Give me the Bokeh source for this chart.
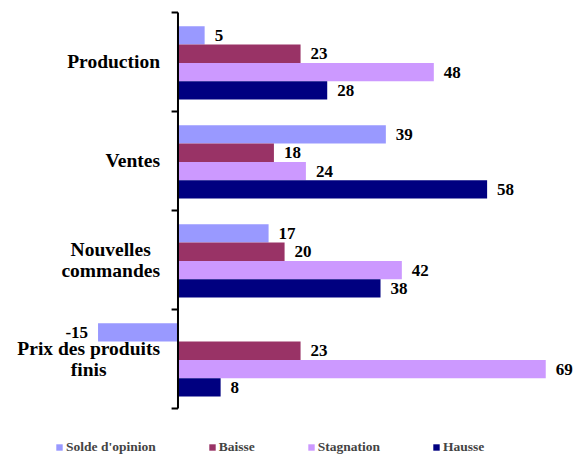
from bokeh.plotting import figure
from bokeh.models import ColumnDataSource, Range1d, Legend, LegendItem
from bokeh.core.properties import value
from bokeh.embed import file_html
from bokeh.resources import INLINE

categories = ["Production", "Ventes", "Nouvelles\ncommandes", "Prix des produits\nfinis"]
series_names = ["Solde d'opinion", "Baisse", "Stagnation", "Hausse"]
solde = [5, 39, 17, -15]
baisse = [23, 18, 20, 23]
stagnation = [48, 24, 42, 69]
hausse = [28, 58, 38, 8]
colors = ["#9999FF", "#993366", "#CC99FF", "#000080"]

FONT_NAME = "Liberation Serif"
FONT = value(FONT_NAME)
n = len(categories)
cat_y = [n - 1 - i + 0.5 for i in range(n)]
offsets = [0.268, 0.083, -0.102, -0.287]
bar_h = 0.185

p = figure(width=576, height=457, output_backend="svg", toolbar_location=None,
           x_range=Range1d(-33.3, 74.77), y_range=Range1d(-0.495, 4.121),
           min_border=0, outline_line_color=None)
p.xaxis.visible = False
p.yaxis.visible = False
p.grid.visible = False

renderers = []
for vals, name, col, off in zip([solde, baisse, stagnation, hausse], series_names, colors, offsets):
    ys = [c + off for c in cat_y]
    src = ColumnDataSource(dict(y=ys, right=vals))
    r = p.hbar(y="y", left=0, right="right", height=bar_h, source=src,
               fill_color=col, line_color=None)
    renderers.append(r)
    pos = [i for i, v in enumerate(vals) if v >= 0]
    neg = [i for i, v in enumerate(vals) if v < 0]
    if pos:
        p.text(x=[vals[i] for i in pos], y=[ys[i] for i in pos], text=[str(vals[i]) for i in pos],
               x_offset=10, text_align="left", text_baseline="middle",
               text_font=FONT, text_font_style="bold", text_font_size="17px", text_color="black")
    if neg:
        p.text(x=[vals[i] for i in neg], y=[ys[i] for i in neg], text=[str(vals[i]) for i in neg],
               x_offset=-10, text_align="right", text_baseline="middle",
               text_font=FONT, text_font_style="bold", text_font_size="17px", text_color="black")

# vertical axis line and ticks
bounds = list(range(n + 1))
p.segment(x0=[0], y0=[0], x1=[0], y1=[n], line_color="black", line_width=2)
p.segment(x0=[-1.2] * len(bounds), y0=bounds, x1=[0] * len(bounds), y1=bounds,
          line_color="black", line_width=2)

# category labels
p.text(x=[0] * n, y=cat_y, text=categories, x_offset=-18, anchor="center_right",
       text_align="center", text_baseline="middle", text_line_height=1.0,
       text_font=FONT, text_font_style="bold", text_font_size="19.5px", text_color="black")

legend = Legend(items=[LegendItem(label=nm, renderers=[r]) for nm, r in zip(series_names, renderers)],
                orientation="horizontal", location=(55, 2), padding=0, margin=0,
                spacing=52, glyph_width=8, glyph_height=8, label_standoff=3,
                label_height=14, label_text_font=FONT_NAME, label_text_font_style="bold",
                label_text_font_size="13.5px", border_line_color=None, background_fill_alpha=0)
p.add_layout(legend)

open("out.html", "w").write(file_html(p, INLINE))
